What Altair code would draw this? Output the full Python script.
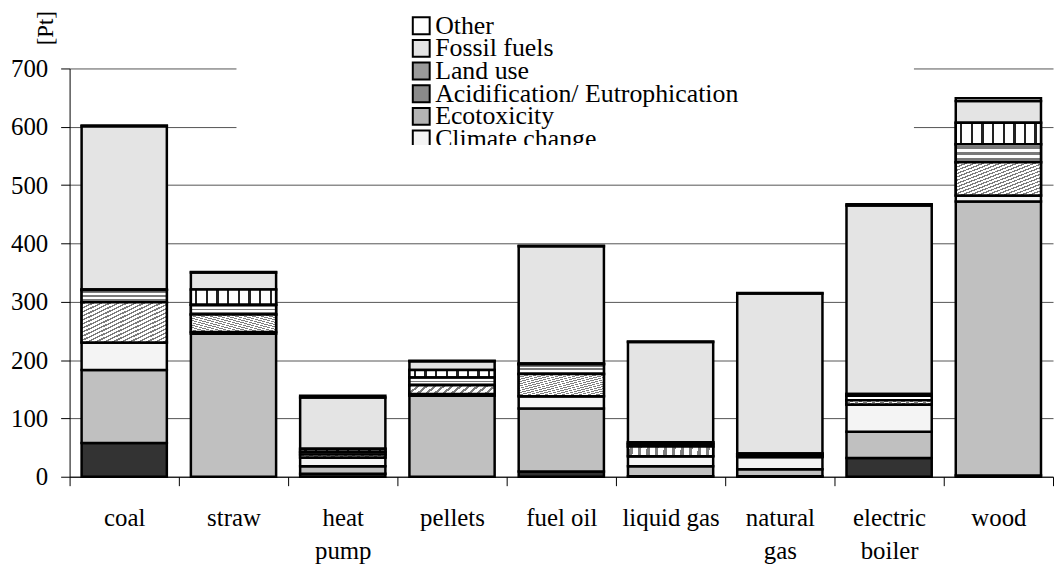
import altair as alt
import pandas as pd

# ---- data ----
sources = ["coal", "straw", "heat pump", "pellets", "fuel oil",
           "liquid gas", "natural gas", "electric boiler", "wood"]

# stacking order: bottom -> top
categories = ["Carcinogens", "Resp. inorganics", "Climate change", "Ecotoxicity",
              "Acidification/ Eutrophication", "Land use", "Fossil fuels", "Other"]

carcinogens      = [58,   0,  5,   0,   9,   1,   1,  32,   2]
resp_inorganics  = [125, 245, 13, 139, 108,  17,  12,  45, 470]
climate_change   = [47,   3, 15,   3,  21,  17,  21,  47,  10]
ecotoxicity      = [69,  30,  5,  15,  38,  17,   2,   7,  57]
acid_eutro       = [21,  17,  5,  13,  17,   4,   3,   8,  31]
land_use         = [1,   26,  5,  13,   1,   3,   1,   3,  37]
fossil_fuels     = [280, 29, 88,  15, 201, 172, 274, 323,  37]
other            = [1,    1,  3,   1,   1,   1,   1,   2,   5]

series = [carcinogens, resp_inorganics, climate_change, ecotoxicity,
          acid_eutro, land_use, fossil_fuels, other]

# legend as shown (top of the stack first, clipped after "Climate change")
legend_entries = ["Other", "Fossil fuels", "Land use",
                  "Acidification/ Eutrophication", "Ecotoxicity", "Climate change"]
two_line_labels = ["heat pump", "natural gas", "electric boiler"]

rows = []
for ci, (cat, vals) in enumerate(zip(categories, series)):
    for s, v in zip(sources, vals):
        rows.append({"source": s, "category": cat, "value": v, "order": ci})
df = pd.DataFrame(rows)
legend_df = pd.DataFrame({"category": legend_entries, "idx": list(range(len(legend_entries)))})

# ---- styles ----
FONT = "'Liberation Serif', 'Times New Roman', Times, 'DejaVu Serif', serif"
fill_colors = {
    "Other": "#ffffff",
    "Fossil fuels": "#e4e4e4",
    "Land use": "#9a9a9a",
    "Acidification/ Eutrophication": "#8a8a8a",
    "Ecotoxicity": "#b4b4b4",
    "Climate change": "#f4f4f4",
    "Resp. inorganics": "#c0c0c0",
    "Carcinogens": "#333333",
}
domain_top_first = categories[::-1]
range_top_first = [fill_colors[c] for c in domain_top_first]
fill_scale = alt.Scale(domain=domain_top_first, range=range_top_first)


def stripes(n, frac, dark, light="#ffffff", x1=0, y1=0, x2=1, y2=0):
    stops = []
    for i in range(n):
        a = i / n
        c = (i + 0.5 - frac / 2) / n
        d = (i + 0.5 + frac / 2) / n
        b = (i + 1) / n
        stops += [{"offset": a, "color": light}, {"offset": c, "color": light},
                  {"offset": c, "color": dark}, {"offset": d, "color": dark},
                  {"offset": d, "color": light}, {"offset": b, "color": light}]
    return {"gradient": "linear", "x1": x1, "y1": y1, "x2": x2, "y2": y2,
            "stops": stops}


land_fill = stripes(8, 0.22, "#222222")                         # vertical bars
acid_fill = stripes(3, 0.45, "#7a7a7a", x1=0, y1=0, x2=0, y2=1)  # horizontal bars
eco_fill = stripes(20, 0.4, "#7d7d7d", x1=0, y1=0, x2=1, y2=1)   # diagonal hatch

BAR_W = {"band": 0.78}

x_enc = alt.X(
    "source:N", sort=sources,
    scale=alt.Scale(paddingInner=0, paddingOuter=0),
    axis=alt.Axis(
        title=None, labelAngle=0, tickBand="extent", tickSize=9,
        labelPadding=20, labelLineHeight=33,
        labelExpr="indexof(" + str(two_line_labels) + ", datum.label) >= 0 ? split(datum.label, ' ') : datum.label",
    ),
)
y_enc = alt.Y(
    "v0:Q",
    scale=alt.Scale(domain=[0, 700], nice=False),
    axis=alt.Axis(
        values=list(range(0, 701, 100)), grid=True, tickSize=9, labelPadding=13,
        title="[Pt]", titleAngle=270, titleX=-24, titleY=-41,
        titleAlign="center", titleBaseline="middle",
        titleFont=FONT, titleFontSize=23, titleFontWeight="normal",
    ),
)

base = alt.Chart(df).transform_stack(
    stack="value", groupby=["source"], as_=["v0", "v1"],
    sort=[alt.SortField("order", order="ascending")],
)

# white legend box that hides the gridlines behind the legend
box = (
    alt.Chart(legend_df)
    .transform_filter("datum.idx == 0")
    .mark_rect(fill="white")
    .encode(x=alt.value(168), x2=alt.value(850), y=alt.value(-70), y2=alt.value(77))
)

bars = base.mark_bar(width=BAR_W, stroke="black", strokeWidth=2.5).encode(
    x=x_enc, y=y_enc, y2="v1:Q",
    fill=alt.Fill("category:N", scale=fill_scale, legend=None),
)


def overlay(cat, grad):
    return (
        base.transform_filter(alt.datum.category == cat)
        .mark_bar(width=BAR_W, stroke="black", strokeWidth=2.5, fill=grad)
        .encode(x=x_enc, y=y_enc, y2="v1:Q")
    )


main = alt.layer(
    box, bars,
    overlay("Land use", land_fill),
    overlay("Acidification/ Eutrophication", acid_fill),
    overlay("Ecotoxicity", eco_fill),
)

leg_y = alt.Y("idx:O", axis=None,
              scale=alt.Scale(type="point", range=[-43, 71], padding=0))

leg_sym = alt.Chart(legend_df).mark_square(
    size=289, stroke="black", strokeWidth=2, opacity=1
).encode(
    x=alt.value(354), y=leg_y,
    fill=alt.Fill("category:N", scale=fill_scale, legend=None),
)
leg_txt = alt.Chart(legend_df).mark_text(
    align="left", baseline="middle", font=FONT, fontSize=26, color="black"
).encode(x=alt.value(368), y=leg_y, text="category:N")

# legend box edge: its content is clipped here
clip = (
    alt.Chart(legend_df)
    .transform_filter("datum.idx == 0")
    .mark_rect(fill="white")
    .encode(x=alt.value(168), x2=alt.value(850), y=alt.value(77), y2=alt.value(92))
)

legend = alt.layer(leg_sym, leg_txt)

chart = (
    alt.layer(main, legend, clip)
    .resolve_scale(y="independent")
    .properties(
        width=990, height=411,
        padding={"left": 62, "top": 59, "right": 2, "bottom": 87},
        autosize=alt.AutoSizeParams(type="none"),
    )
    .configure_view(strokeWidth=0)
    .configure_axis(
        labelFont=FONT, labelFontSize=25, labelColor="black",
        domainColor="black", domainWidth=1, tickColor="black", tickWidth=1,
        gridColor="#555555", gridWidth=1,
    )
)

chart.save("out.html", embed_options={"renderer": "svg", "actions": False})
